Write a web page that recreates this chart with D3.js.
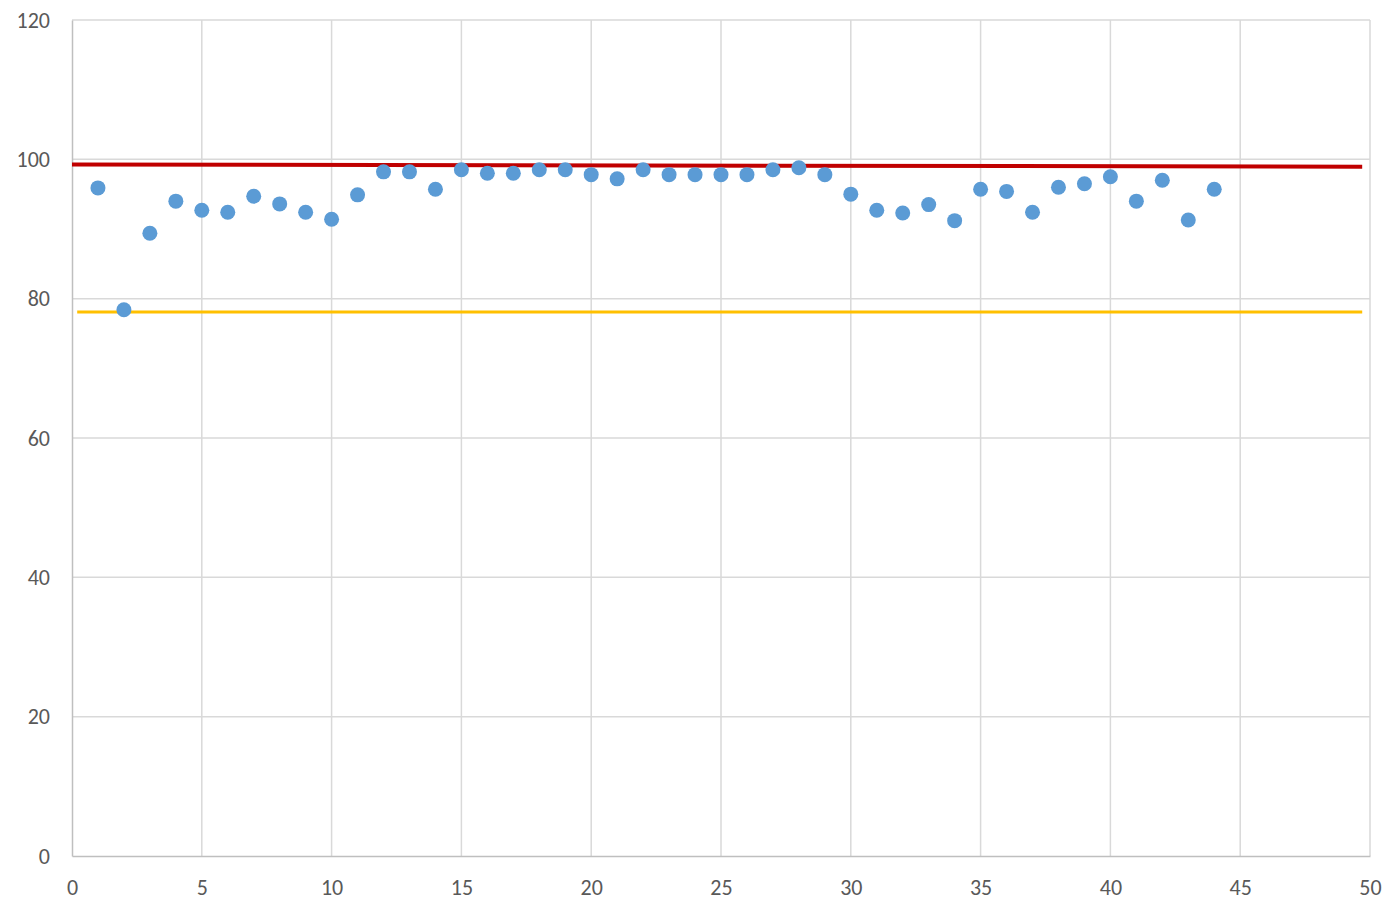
<!DOCTYPE html>
<html lang="en">
<head>
<meta charset="UTF-8">
<title>Scatter</title>
<script src="https://cdn.jsdelivr.net/npm/d3@7"></script>
<style>
  body { margin: 0; background: #fff; }
  .tick text { font-family: Carlito, "Open Sans", sans-serif; font-size: 22px; fill: #595959; }
</style>
</head>
<body>
<script>
// data
var xs = d3.range(1, 45);
var ys = [95.9, 78.4, 89.4, 94.0, 92.7, 92.4, 94.7, 93.6, 92.4, 91.4,
          94.9, 98.2, 98.2, 95.7, 98.5, 98.0, 98.0, 98.5, 98.5, 97.8,
          97.2, 98.5, 97.8, 97.8, 97.8, 97.8, 98.5, 98.8, 97.8, 95.0,
          92.7, 92.3, 93.5, 91.2, 95.7, 95.4, 92.4, 96.0, 96.5, 97.5,
          94.0, 97.0, 91.3, 95.7];
var redLine = [[0, 99.25], [49.7, 98.95]];
var yellowLine = [[0.2, 78.1], [49.7, 78.1]];
var xTicks = d3.range(0, 55, 5);
var yTicks = d3.range(0, 140, 20);

var margin = { top: 20, right: 18, bottom: 44, left: 72 };
var width = 1388 - margin.left - margin.right, height = 900 - margin.top - margin.bottom;

var svg = d3.select("body").append("svg")
    .attr("width", 1388).attr("height", 900);
var g = svg.append("g").attr("transform", "translate(" + margin.left + "," + margin.top + ")");

var x = d3.scaleLinear().domain([0, 50]).range([0, width]);
var y = d3.scaleLinear().domain([0, 120]).range([height, 0]);

// gridlines
g.selectAll(".hgrid").data(yTicks.slice(1)).enter().append("line")
    .attr("x1", 0).attr("x2", width)
    .attr("y1", function(d) { return y(d); }).attr("y2", function(d) { return y(d); })
    .style("stroke", "#d9d9d9").style("stroke-width", 1.5);
g.selectAll(".vgrid").data(xTicks.slice(1)).enter().append("line")
    .attr("y1", 0).attr("y2", height)
    .attr("x1", function(d) { return x(d); }).attr("x2", function(d) { return x(d); })
    .style("stroke", "#d9d9d9").style("stroke-width", 1.5);

var xAxis = d3.axisBottom(x).tickValues(xTicks).tickSize(0).tickPadding(23);
var yAxis = d3.axisLeft(y).tickValues(yTicks).tickSize(0).tickPadding(22);

g.append("g").attr("class", "x-axis").attr("transform", "translate(0," + height + ")").call(xAxis)
    .call(function(a) { a.select(".domain").style("stroke", "#bfbfbf").style("stroke-width", 1.5); });
g.append("g").attr("class", "y-axis").call(yAxis)
    .call(function(a) { a.select(".domain").style("stroke", "#bfbfbf").style("stroke-width", 1.5); });

var line = d3.line().x(function(d) { return x(d[0]); }).y(function(d) { return y(d[1]); });

g.append("path").datum(yellowLine).attr("d", line)
    .style("fill", "none").style("stroke", "#ffc000").style("stroke-width", 3);
g.append("path").datum(redLine).attr("d", line)
    .style("fill", "none").style("stroke", "#c00000").style("stroke-width", 4);

g.selectAll(".dot").data(xs).enter().append("circle")
    .attr("r", 7.5)
    .attr("cx", function(d) { return x(d); })
    .attr("cy", function(d, i) { return y(ys[i]); })
    .style("fill", "#5b9bd5");
</script>
</body>
</html>
